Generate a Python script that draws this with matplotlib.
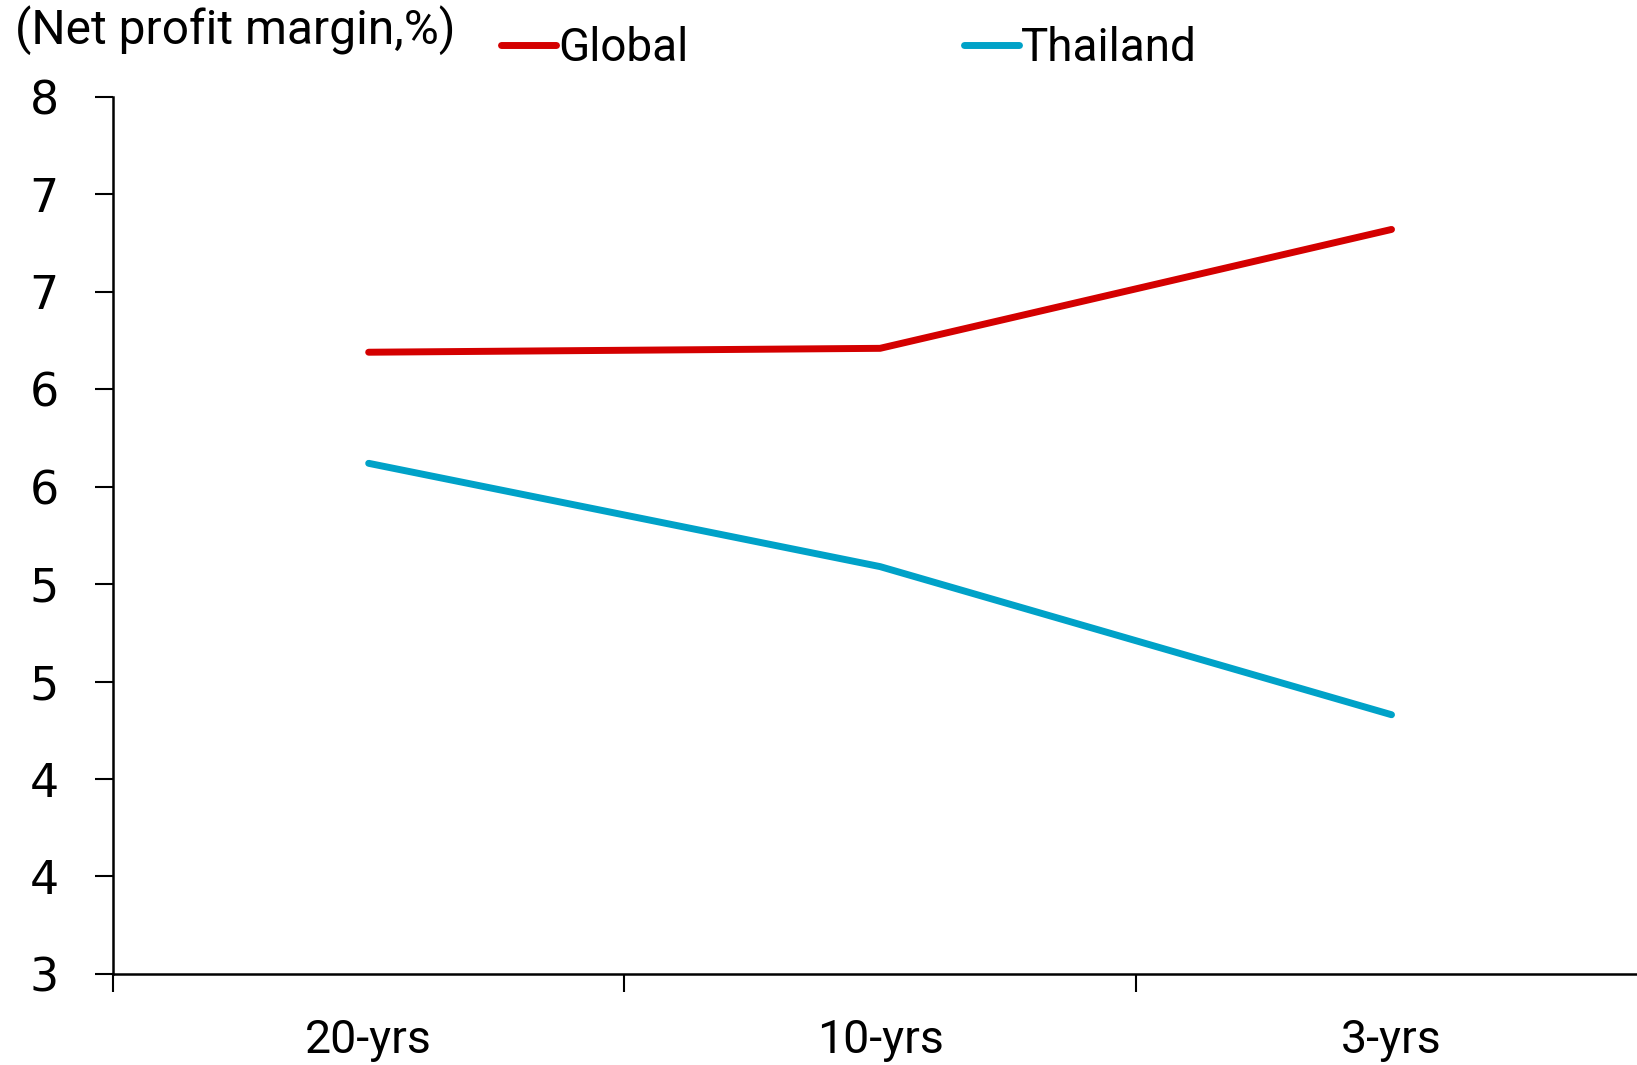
import matplotlib
matplotlib.use("Agg")
import matplotlib.pyplot as plt
from matplotlib.ticker import FixedLocator, FuncFormatter
import math

categories = ["20-yrs", "10-yrs", "3-yrs"]
global_margin = [6.19, 6.21, 6.82]
thailand_margin = [5.62, 5.09, 4.33]
y_ticks = [3.0, 3.5, 4.0, 4.5, 5.0, 5.5, 6.0, 6.5, 7.0, 7.5]

text_font = ["Roboto", "DejaVu Sans"]
tick_font = ["DejaVu Sans"]

fig = plt.figure(figsize=(16.37, 10.65), dpi=100)
ax = fig.add_axes([0.069, 0.0855, 0.931, 0.8235])

x = list(range(len(categories)))
ax.plot(x, global_margin, color="#D40000", lw=5.0, solid_capstyle="round",
        solid_joinstyle="round", label="Global")
ax.plot(x, thailand_margin, color="#00A2C8", lw=5.0, solid_capstyle="round",
        solid_joinstyle="round", label="Thailand")

ax.set_xlim(-0.5, 2.48)
ax.set_ylim(3, 7.5)

for side in ("top", "right"):
    ax.spines[side].set_visible(False)
ax.spines["left"].set_linewidth(1.8)
ax.spines["bottom"].set_linewidth(1.8)

# y ticks: half-unit steps shown rounded to whole numbers
ax.yaxis.set_major_locator(FixedLocator(y_ticks))
ax.yaxis.set_major_formatter(FuncFormatter(lambda v, p: str(int(math.floor(v + 0.5)))))
ax.tick_params(axis="y", direction="out", length=13, width=1.5, pad=26,
               labelsize=33)
for lab in ax.get_yticklabels():
    lab.set_family(tick_font)

# x: category labels at centers, tick marks at boundaries
ax.xaxis.set_major_locator(FixedLocator([-0.5, 0.5, 1.5]))
ax.xaxis.set_major_formatter(FuncFormatter(lambda v, p: ""))
ax.xaxis.set_minor_locator(FixedLocator(x))
ax.xaxis.set_minor_formatter(FuncFormatter(lambda v, p: categories[int(round(v))]))
ax.tick_params(axis="x", which="major", direction="out", length=13, width=1.5)
ax.tick_params(axis="x", which="minor", length=0, pad=32, labelsize=33.5)
for lab in ax.get_xticklabels(minor=True):
    lab.set_family(text_font)

fig.text(0.009, 0.972, "(Net profit margin,%)", fontsize=34.5, family=text_font,
         ha="left", va="center")

leg = fig.legend(loc="center left", bbox_to_anchor=(0.281, 0.955), ncol=2,
                 frameon=False, handlelength=1.2, handletextpad=0.05,
                 columnspacing=6.0, prop={"family": text_font, "size": 33})

fig.savefig("out.png", dpi=100, facecolor="white")
